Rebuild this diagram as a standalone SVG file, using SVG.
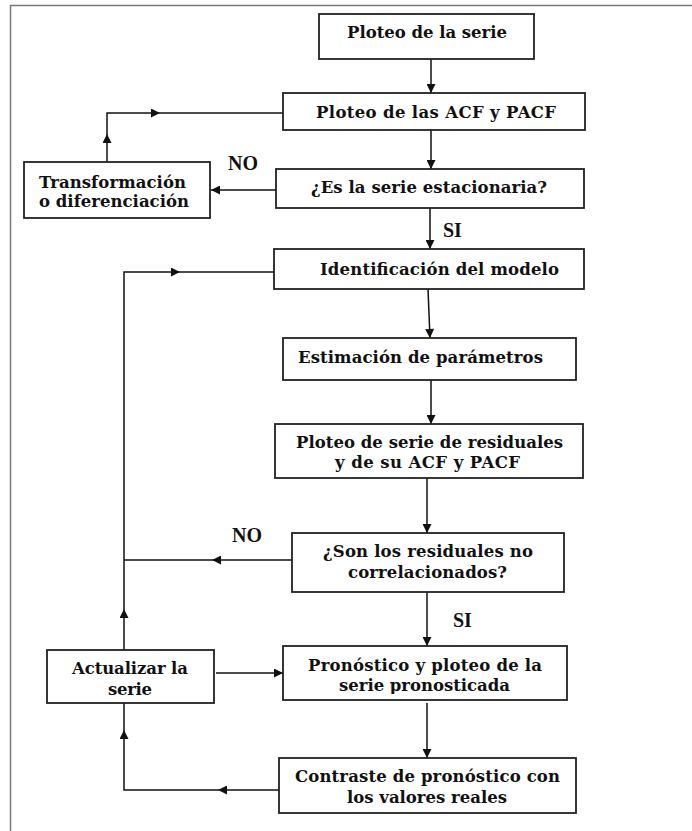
<svg xmlns="http://www.w3.org/2000/svg" width="692" height="831" viewBox="0 0 692 831">
<style>
.frame{stroke:#777;stroke-width:1.5;fill:none}
.box{fill:#fff;stroke:#222;stroke-width:1.8}
.t{font-family:"DejaVu Serif","Liberation Serif",serif;font-weight:bold;font-size:16.5px;fill:#111}
.lbl{font-family:"Liberation Serif","Times New Roman",serif;font-weight:bold;font-size:20px;fill:#111}
.c{fill:none;stroke:#111;stroke-width:1.5}
.a{marker-end:url(#ah)}
</style>
<defs>
<marker id="ah" viewBox="0 0 10 10" refX="10" refY="5" markerWidth="10" markerHeight="9" markerUnits="userSpaceOnUse" orient="auto">
<path d="M0,0 L10,5 L0,10 z" fill="#111"/>
</marker>
<clipPath id="clipPron"><rect x="283" y="646" width="284" height="48"/></clipPath>
</defs>
<rect width="692" height="831" fill="#fff"/>
<path class="frame" d="M10.5,831 V5.5 H692"/>

<g id="connectors">
<path class="c a" d="M431,59 V93"/>
<path class="c a" d="M431,130 V169"/>
<path class="c a" d="M276,190 H211"/>
<path class="c a" d="M107,162 V134"/>
<path class="c a" d="M107,134 V113 H160"/>
<path class="c" d="M160,113 H283"/>
<path class="c a" d="M430,208 V249"/>
<path class="c a" d="M428,289 L430,338"/>
<path class="c a" d="M431,380 V424"/>
<path class="c a" d="M427,478 V533"/>
<path class="c a" d="M292,560 H212"/>
<path class="c" d="M212,560 H124"/>
<path class="c a" d="M124,650 V609"/>
<path class="c a" d="M124,609 V272 H180"/>
<path class="c" d="M180,272 H274"/>
<path class="c a" d="M427,592 V646"/>
<path class="c a" d="M216,673 H283"/>
<path class="c a" d="M427,703 V758"/>
<path class="c a" d="M279,790 H218"/>
<path class="c a" d="M218,790 H124 V730"/>
<path class="c" d="M124,730 V703"/>
</g>

<g id="labels">
<text class="lbl" x="228" y="170">NO</text>
<text class="lbl" x="443" y="237">SI</text>
<text class="lbl" x="232" y="542">NO</text>
<text class="lbl" x="453" y="627">SI</text>
</g>

<g id="n1">
<rect class="box" x="319" y="14" width="215" height="45"/>
<text class="t" x="347" y="38" textLength="160">Ploteo de la serie</text>
</g>
<g id="n2">
<rect class="box" x="283" y="93" width="302" height="37"/>
<text class="t" x="316" y="118" textLength="240">Ploteo de las ACF y PACF</text>
</g>
<g id="n3">
<rect class="box" x="276" y="169" width="308" height="39"/>
<text class="t" x="311" y="193" textLength="236">¿Es la serie estacionaria?</text>
</g>
<g id="n4">
<rect class="box" x="24" y="162" width="186" height="56"/>
<text class="t" x="39" y="188" textLength="147">Transformación</text>
<text class="t" x="39" y="207" textLength="150">o diferenciación</text>
</g>
<g id="n5">
<rect class="box" x="274" y="249" width="310" height="40"/>
<text class="t" x="320" y="275" textLength="239">Identificación del modelo</text>
</g>
<g id="n6">
<rect class="box" x="283" y="338" width="293" height="42"/>
<text class="t" x="298" y="363" textLength="245">Estimación de parámetros</text>
</g>
<g id="n7">
<rect class="box" x="275" y="424" width="308" height="54"/>
<text class="t" x="296" y="448" textLength="267">Ploteo de serie de residuales</text>
<text class="t" x="335" y="468" textLength="185">y de su ACF y PACF</text>
</g>
<g id="n8">
<rect class="box" x="292" y="533" width="272" height="59"/>
<text class="t" x="323" y="557" textLength="210">¿Son los residuales no</text>
<text class="t" x="348" y="578" textLength="159">correlacionados?</text>
</g>
<g id="n9">
<rect class="box" x="283" y="646" width="284" height="54"/>
<text class="t" x="308" y="671" textLength="234">Pronóstico y ploteo de la</text>
<text class="t" x="339" y="691" textLength="171" clip-path="url(#clipPron)">serie pronosticada</text>
</g>
<g id="n10">
<rect class="box" x="47" y="650" width="167" height="53"/>
<text class="t" x="72" y="674" textLength="116">Actualizar la</text>
<text class="t" x="108" y="695" textLength="44">serie</text>
</g>
<g id="n11">
<rect class="box" x="279" y="758" width="297" height="55"/>
<text class="t" x="295" y="782" textLength="265">Contraste de pronóstico con</text>
<text class="t" x="347" y="803" textLength="160">los valores reales</text>
</g>
</svg>
